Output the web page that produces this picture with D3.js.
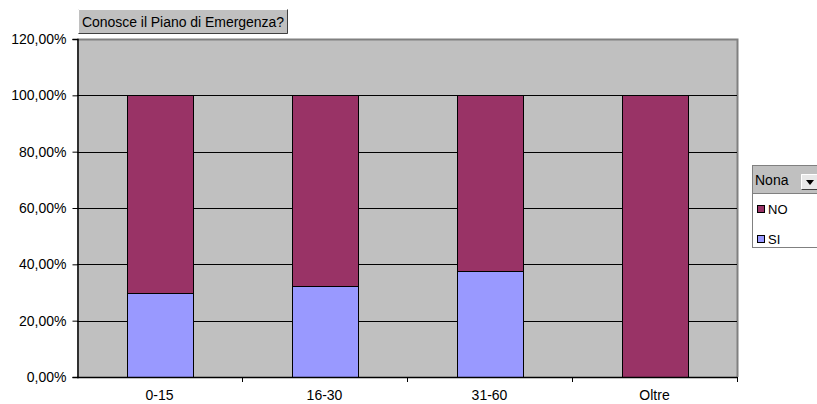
<!DOCTYPE html>
<html>
<head>
<meta charset="utf-8">
<script src="https://cdn.jsdelivr.net/npm/d3@7"></script>
<style>
  body { margin: 0; background: #fff; }
  svg { display: block; font-family: "Liberation Sans", Arial, sans-serif; }
</style>
</head>
<body>
<div id="chart"></div>
<script>
var categories = ["0-15", "16-30", "31-60", "Oltre"];
var siValues = [0.298, 0.322, 0.375, 0];
var noValues = [0.702, 0.678, 0.625, 1];
var seriesNames = ["NO", "SI"];
var yTicks = [0, 0.2, 0.4, 0.6, 0.8, 1.0, 1.2];
var chartTitle = "Conosce il Piano di Emergenza?";
var legendTitle = "Nona";

var colors = { "SI": "#9999ff", "NO": "#993366" };

var width = 817, height = 404;
var margin = { top: 39, right: 80, bottom: 27, left: 77 };
var fontSize = 14;

var svg = d3.select("#chart").append("svg")
    .attr("width", width)
    .attr("height", height);

var x = d3.scaleBand()
    .domain(categories)
    .range([margin.left, width - margin.right])
    .paddingInner(0.6)
    .paddingOuter(0.3);

var y = d3.scaleLinear()
    .domain([0, 1.2])
    .range([height - margin.bottom, margin.top]);

// plot background
svg.append("rect")
    .attr("x", margin.left)
    .attr("y", margin.top)
    .attr("width", width - margin.right - margin.left)
    .attr("height", height - margin.bottom - margin.top)
    .attr("fill", "#c0c0c0");

// top + right border
svg.append("path")
    .attr("d", "M" + margin.left + "," + (margin.top + 0.5) + "H" + (width - margin.right + 0.5) + "V" + (height - margin.bottom))
    .attr("fill", "none")
    .attr("stroke", "#808080")
    .attr("stroke-width", 2);

// gridlines
svg.append("g")
  .selectAll("line")
  .data(yTicks.filter(function(d) { return d > 0 && d < 1.2; }))
  .enter().append("line")
    .attr("x1", margin.left)
    .attr("x2", width - margin.right)
    .attr("y1", function(d) { return Math.round(y(d)) + 0.5; })
    .attr("y2", function(d) { return Math.round(y(d)) + 0.5; })
    .attr("stroke", "#000")
    .attr("stroke-width", 1);

// stacked data
var table = categories.map(function(c, i) { return { cat: c, SI: siValues[i], NO: noValues[i] }; });
var stack = d3.stack().keys(["SI", "NO"])(table);

svg.append("g")
  .selectAll("g")
  .data(stack)
  .enter().append("g")
    .attr("fill", function(d) { return colors[d.key]; })
  .selectAll("rect")
  .data(function(d) { return d.filter(function(p) { return p[1] - p[0] > 0; }); })
  .enter().append("rect")
    .attr("x", function(d) { return Math.round(x(d.data.cat)) + 0.5; })
    .attr("y", function(d) { return Math.round(y(d[1])) + 0.5; })
    .attr("width", function(d) { return Math.round(x.bandwidth()); })
    .attr("height", function(d) { return Math.round(y(d[0])) - Math.round(y(d[1])); })
    .attr("stroke", "#000")
    .attr("stroke-width", 1);

// y axis
var yAxis = d3.axisLeft(y)
    .tickValues(yTicks)
    .tickSize(5)
    .tickPadding(6)
    .tickFormat(function(d) { return d3.format(".2f")(d * 100).replace(".", ",") + "%"; });

var yg = svg.append("g")
    .attr("transform", "translate(" + (margin.left + 0.5) + ",0)")
    .call(yAxis);
yg.select(".domain").attr("stroke", "#000").attr("stroke-width", 1.5);
yg.selectAll(".tick line").attr("stroke", "#000");
yg.selectAll("text").attr("font-size", fontSize).attr("fill", "#000").attr("font-family", "Liberation Sans, Arial, sans-serif");

// x axis
var xAxis = d3.axisBottom(x).tickSize(0).tickPadding(13);
var xg = svg.append("g")
    .attr("transform", "translate(0," + (height - margin.bottom + 0.5) + ")")
    .call(xAxis);
xg.select(".domain").remove();
xg.selectAll("text").attr("font-size", fontSize).attr("fill", "#000").attr("font-family", "Liberation Sans, Arial, sans-serif");

svg.append("line")
    .attr("x1", margin.left)
    .attr("x2", width - margin.right)
    .attr("y1", height - margin.bottom + 0.5)
    .attr("y2", height - margin.bottom + 0.5)
    .attr("stroke", "#000")
    .attr("stroke-width", 1.5);

// category separator ticks
var step = x.step();
svg.append("g")
  .selectAll("line")
  .data(categories)
  .enter().append("line")
    .attr("x1", function(d) { return Math.round(x(d) - x.paddingOuter() * step + step) + 0.5; })
    .attr("x2", function(d) { return Math.round(x(d) - x.paddingOuter() * step + step) + 0.5; })
    .attr("y1", height - margin.bottom)
    .attr("y2", height - margin.bottom + 5)
    .attr("stroke", "#000");

// title button
var tg = svg.append("g").attr("transform", "translate(78,9)");
tg.append("rect").attr("width", 210).attr("height", 25).attr("fill", "#c0c0c0");
tg.append("path").attr("d", "M0.5,24.5V0.5H209.5").attr("fill", "none").attr("stroke", "#fff");
tg.append("path").attr("d", "M0.5,24.5H209.5V0.5").attr("fill", "none").attr("stroke", "#404040");
tg.append("text")
    .attr("x", 4).attr("y", 18)
    .attr("font-size", fontSize)
    .attr("textLength", 202)
    .text(chartTitle);

// legend (runs off the right edge like the original)
var lg = svg.append("g").attr("transform", "translate(752,165)");
lg.append("rect").attr("x", 0.5).attr("y", 0.5).attr("width", 80).attr("height", 82)
    .attr("fill", "#fff").attr("stroke", "#808080");
lg.append("rect").attr("x", 1).attr("y", 1).attr("width", 80).attr("height", 27).attr("fill", "#c0c0c0");
lg.append("line").attr("x1", 0).attr("x2", 81).attr("y1", 28.5).attr("y2", 28.5).attr("stroke", "#808080");
lg.append("text").attr("x", 3).attr("y", 20).attr("font-size", fontSize).text(legendTitle);
// dropdown button
var db = lg.append("g").attr("transform", "translate(49,9)");
db.append("rect").attr("width", 18).attr("height", 16).attr("fill", "#e8e8e8");
db.append("path").attr("d", "M0.5,15.5V0.5H17.5").attr("fill", "none").attr("stroke", "#fff");
db.append("path").attr("d", "M0.5,15.5H17.5V0.5").attr("fill", "none").attr("stroke", "#404040");
db.append("path").attr("d", "M5,6H13L9,11Z").attr("fill", "#000");

var items = lg.selectAll(".item")
  .data(seriesNames)
  .enter().append("g")
    .attr("class", "item")
    .attr("transform", function(d, i) { return "translate(5," + (40 + i * 30) + ")"; });
items.append("rect")
    .attr("x", 0.5).attr("y", 0.5)
    .attr("width", 7).attr("height", 7)
    .attr("fill", function(d) { return colors[d]; })
    .attr("stroke", "#000");
items.append("text")
    .attr("x", 11).attr("y", 9)
    .attr("font-size", fontSize - 1)
    .text(function(d) { return d; });
</script>
</body>
</html>
